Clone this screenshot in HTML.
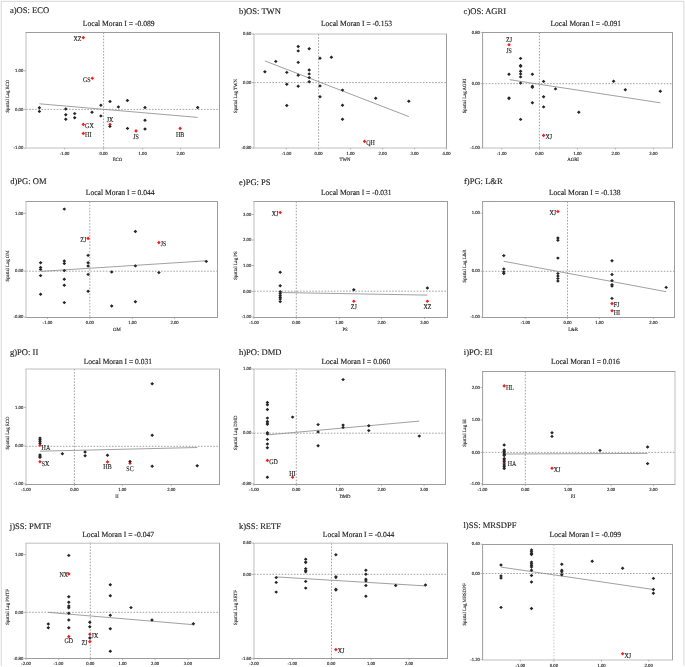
<!DOCTYPE html>
<html><head><meta charset="utf-8"><title>Local Moran scatterplots</title>
<style>
html,body{margin:0;padding:0;background:#fff;}
body{width:685px;height:667px;overflow:hidden;}
svg text{stroke:#222;stroke-width:0.14px;}
svg{display:block;font-family:"Liberation Serif",serif;will-change:transform;text-rendering:geometricPrecision;}
</style></head><body>
<svg width="685" height="667" viewBox="0 0 685 667">
<path d="M1.3 666V1.3H683.8V665.5" fill="none" stroke="#dedede" stroke-width="1.2"/>
<g><text x="9.9" y="13.1" font-size="8.55" fill="#222">a)OS: ECO</text><text x="82.8" y="26.1" font-size="7.8" fill="#222" textLength="71.8" lengthAdjust="spacingAndGlyphs">Local Moran I = -0.089</text><line x1="103.6" y1="32.5" x2="103.6" y2="148" stroke="#999999" stroke-width="0.9" stroke-dasharray="1.6 1.47"/><line x1="26" y1="109.4" x2="219.5" y2="109.4" stroke="#999999" stroke-width="0.9" stroke-dasharray="1.6 1.47"/><line x1="25.5" y1="32.5" x2="220" y2="32.5" stroke="#a09c9c" stroke-width="1"/><line x1="25.5" y1="148" x2="220" y2="148" stroke="#c0bdbd" stroke-width="1"/><line x1="26" y1="32.5" x2="26" y2="148" stroke="#c0bdbd" stroke-width="1"/><line x1="219.5" y1="32.5" x2="219.5" y2="148" stroke="#a09c9c" stroke-width="1"/><line x1="24" y1="70.8" x2="26" y2="70.8" stroke="#999" stroke-width="0.7"/><text x="23.3" y="72" font-size="4.7" fill="#333" text-anchor="end">1.00</text><line x1="24" y1="109.3" x2="26" y2="109.3" stroke="#999" stroke-width="0.7"/><text x="23.3" y="110.5" font-size="4.7" fill="#333" text-anchor="end">0.00</text><line x1="24" y1="148.2" x2="26" y2="148.2" stroke="#999" stroke-width="0.7"/><text x="23.3" y="149.4" font-size="4.7" fill="#333" text-anchor="end">-1.00</text><line x1="64.6" y1="148" x2="64.6" y2="149.5" stroke="#999" stroke-width="0.7"/><text x="64.6" y="154.9" font-size="4.7" fill="#333" text-anchor="middle">-1.00</text><line x1="103.6" y1="148" x2="103.6" y2="149.5" stroke="#999" stroke-width="0.7"/><text x="103.6" y="154.9" font-size="4.7" fill="#333" text-anchor="middle">0.00</text><line x1="142.7" y1="148" x2="142.7" y2="149.5" stroke="#999" stroke-width="0.7"/><text x="142.7" y="154.9" font-size="4.7" fill="#333" text-anchor="middle">1.00</text><line x1="180.6" y1="148" x2="180.6" y2="149.5" stroke="#999" stroke-width="0.7"/><text x="180.6" y="154.9" font-size="4.7" fill="#333" text-anchor="middle">2.00</text><text x="117.5" y="161.3" font-size="4.8" fill="#333" text-anchor="middle">ECO</text><text transform="translate(9 96.2) rotate(-90)" font-size="4.8" fill="#333" text-anchor="middle">Spatial Lag ECO</text><line x1="39.4" y1="103.8" x2="197.7" y2="117.4" stroke="#8a8888" stroke-width="0.8"/><path d="M83.3 35.8L85.1 37.6L83.3 39.4L81.5 37.6ZM92.3 76.4L94.1 78.2L92.3 80L90.5 78.2ZM83.3 122.6L85.1 124.4L83.3 126.2L81.5 124.4ZM83.3 131.6L85.1 133.4L83.3 135.2L81.5 133.4ZM110 122.7L111.8 124.5L110 126.3L108.2 124.5ZM136 129.1L137.8 130.9L136 132.7L134.2 130.9ZM180.1 126.6L181.9 128.4L180.1 130.2L178.3 128.4Z" fill="#ff1a1a"/><path d="M39.4 106L41.25 107.7L39.4 109.4L37.55 107.7ZM39.4 109.7L41.25 111.4L39.4 113.1L37.55 111.4ZM65.8 107.3L67.65 109L65.8 110.7L63.95 109ZM65.8 113L67.65 114.7L65.8 116.4L63.95 114.7ZM65.8 117.6L67.65 119.3L65.8 121L63.95 119.3ZM74.7 111.9L76.55 113.6L74.7 115.3L72.85 113.6ZM74.7 116.1L76.55 117.8L74.7 119.5L72.85 117.8ZM92 110.5L93.85 112.2L92 113.9L90.15 112.2ZM100.9 103.6L102.75 105.3L100.9 107L99.05 105.3ZM100.9 114.2L102.75 115.9L100.9 117.6L99.05 115.9ZM110 99.8L111.85 101.5L110 103.2L108.15 101.5ZM127.4 98.8L129.25 100.5L127.4 102.2L125.55 100.5ZM118.4 105.2L120.25 106.9L118.4 108.6L116.55 106.9ZM145 105.8L146.85 107.5L145 109.2L143.15 107.5ZM197.7 105.8L199.55 107.5L197.7 109.2L195.85 107.5ZM145 118.5L146.85 120.2L145 121.9L143.15 120.2ZM127.5 126.7L129.35 128.4L127.5 130.1L125.65 128.4ZM145 127.3L146.85 129L145 130.7L143.15 129ZM109.9 124.7L111.75 126.4L109.9 128.1L108.05 126.4Z" fill="#262626"/><text x="73.55" y="41.4" font-size="7.1" fill="#222" textLength="7.95" lengthAdjust="spacingAndGlyphs">XZ</text><text x="82.88" y="82" font-size="7.1" fill="#222" textLength="7.62" lengthAdjust="spacingAndGlyphs">GS</text><text x="85.1" y="128.2" font-size="7.1" fill="#222" textLength="8.61" lengthAdjust="spacingAndGlyphs">GX</text><text x="85.1" y="137.2" font-size="7.1" fill="#222" textLength="6.29" lengthAdjust="spacingAndGlyphs">HI</text><text x="106.69" y="122.1" font-size="7.1" fill="#222" textLength="6.63" lengthAdjust="spacingAndGlyphs">JX</text><text x="133.18" y="138.5" font-size="7.1" fill="#222" textLength="5.64" lengthAdjust="spacingAndGlyphs">JS</text><text x="175.96" y="136.7" font-size="7.1" fill="#222" textLength="8.29" lengthAdjust="spacingAndGlyphs">HB</text></g>
<g><text x="239" y="13.6" font-size="8.55" fill="#222">b)OS: TWN</text><text x="321" y="26.1" font-size="7.8" fill="#222" textLength="71" lengthAdjust="spacingAndGlyphs">Local Moran I = -0.153</text><line x1="318.6" y1="34" x2="318.6" y2="148" stroke="#999999" stroke-width="0.9" stroke-dasharray="1.6 1.47"/><line x1="254" y1="82.6" x2="446.5" y2="82.6" stroke="#999999" stroke-width="0.9" stroke-dasharray="1.6 1.47"/><line x1="253.5" y1="34" x2="447" y2="34" stroke="#c0bdbd" stroke-width="1"/><line x1="253.5" y1="148" x2="447" y2="148" stroke="#c0bdbd" stroke-width="1"/><line x1="254" y1="34" x2="254" y2="148" stroke="#c0bdbd" stroke-width="1"/><line x1="446.5" y1="34" x2="446.5" y2="148" stroke="#a09c9c" stroke-width="1"/><line x1="252" y1="34" x2="254" y2="34" stroke="#999" stroke-width="0.7"/><text x="251.3" y="35.2" font-size="4.7" fill="#333" text-anchor="end">0.60</text><line x1="252" y1="82.6" x2="254" y2="82.6" stroke="#999" stroke-width="0.7"/><text x="251.3" y="83.8" font-size="4.7" fill="#333" text-anchor="end">0.00</text><line x1="252" y1="148" x2="254" y2="148" stroke="#999" stroke-width="0.7"/><text x="251.3" y="149.2" font-size="4.7" fill="#333" text-anchor="end">-0.80</text><line x1="286.4" y1="148" x2="286.4" y2="149.5" stroke="#999" stroke-width="0.7"/><text x="286.4" y="154.9" font-size="4.7" fill="#333" text-anchor="middle">-1.00</text><line x1="318.6" y1="148" x2="318.6" y2="149.5" stroke="#999" stroke-width="0.7"/><text x="318.6" y="154.9" font-size="4.7" fill="#333" text-anchor="middle">0.00</text><line x1="350.6" y1="148" x2="350.6" y2="149.5" stroke="#999" stroke-width="0.7"/><text x="350.6" y="154.9" font-size="4.7" fill="#333" text-anchor="middle">1.00</text><line x1="382.7" y1="148" x2="382.7" y2="149.5" stroke="#999" stroke-width="0.7"/><text x="382.7" y="154.9" font-size="4.7" fill="#333" text-anchor="middle">2.00</text><line x1="414.5" y1="148" x2="414.5" y2="149.5" stroke="#999" stroke-width="0.7"/><text x="414.5" y="154.9" font-size="4.7" fill="#333" text-anchor="middle">3.00</text><line x1="446.6" y1="148" x2="446.6" y2="149.5" stroke="#999" stroke-width="0.7"/><text x="446.6" y="154.9" font-size="4.7" fill="#333" text-anchor="middle">4.00</text><text x="345" y="161.3" font-size="4.8" fill="#333" text-anchor="middle">TWN</text><text transform="translate(237 96) rotate(-90)" font-size="4.8" fill="#333" text-anchor="middle">Spatial Lag TWN</text><line x1="264.9" y1="60.9" x2="408.8" y2="116.6" stroke="#8a8888" stroke-width="0.8"/><path d="M364.5 139.6L366.3 141.4L364.5 143.2L362.7 141.4Z" fill="#ff1a1a"/><path d="M264.9 70.1L266.75 71.8L264.9 73.5L263.05 71.8ZM275.8 59.7L277.65 61.4L275.8 63.1L273.95 61.4ZM286.8 70.7L288.65 72.4L286.8 74.1L284.95 72.4ZM286.8 82.5L288.65 84.2L286.8 85.9L284.95 84.2ZM298.2 44.8L300.05 46.5L298.2 48.2L296.35 46.5ZM298.2 49.2L300.05 50.9L298.2 52.6L296.35 50.9ZM298.2 60.7L300.05 62.4L298.2 64.1L296.35 62.4ZM298.2 73.5L300.05 75.2L298.2 76.9L296.35 75.2ZM309.2 47L311.05 48.7L309.2 50.4L307.35 48.7ZM309.2 68.3L311.05 70L309.2 71.7L307.35 70ZM309.2 72.2L311.05 73.9L309.2 75.6L307.35 73.9ZM309.2 75.9L311.05 77.6L309.2 79.3L307.35 77.6ZM309.2 80.1L311.05 81.8L309.2 83.5L307.35 81.8ZM320 56.6L321.85 58.3L320 60L318.15 58.3ZM331.4 55.5L333.25 57.2L331.4 58.9L329.55 57.2ZM298.2 84.5L300.05 86.2L298.2 87.9L296.35 86.2ZM320 84.2L321.85 85.9L320 87.6L318.15 85.9ZM320 95.1L321.85 96.8L320 98.5L318.15 96.8ZM286.8 103.8L288.65 105.5L286.8 107.2L284.95 105.5ZM342.5 88.4L344.35 90.1L342.5 91.8L340.65 90.1ZM342.5 103.5L344.35 105.2L342.5 106.9L340.65 105.2ZM342.5 117.5L344.35 119.2L342.5 120.9L340.65 119.2ZM375.7 96.5L377.55 98.2L375.7 99.9L373.85 98.2ZM408.8 99.5L410.65 101.2L408.8 102.9L406.95 101.2Z" fill="#262626"/><text x="366.3" y="145.2" font-size="7.1" fill="#222" textLength="8.61" lengthAdjust="spacingAndGlyphs">QH</text></g>
<g><text x="463.6" y="13.8" font-size="8.55" fill="#222">c)OS: AGRI</text><text x="550.5" y="26.1" font-size="7.8" fill="#222" textLength="70.6" lengthAdjust="spacingAndGlyphs">Local Moran I = -0.091</text><line x1="539.4" y1="32.5" x2="539.4" y2="148" stroke="#999999" stroke-width="0.9" stroke-dasharray="1.6 1.47"/><line x1="482.6" y1="83.7" x2="672.5" y2="83.7" stroke="#999999" stroke-width="0.9" stroke-dasharray="1.6 1.47"/><line x1="482.1" y1="32.5" x2="673" y2="32.5" stroke="#a09c9c" stroke-width="1"/><line x1="482.1" y1="148" x2="673" y2="148" stroke="#c0bdbd" stroke-width="1"/><line x1="482.6" y1="32.5" x2="482.6" y2="148" stroke="#a09c9c" stroke-width="1"/><line x1="672.5" y1="32.5" x2="672.5" y2="148" stroke="#a09c9c" stroke-width="1"/><line x1="480.6" y1="32.4" x2="482.6" y2="32.4" stroke="#999" stroke-width="0.7"/><text x="479.9" y="33.6" font-size="4.7" fill="#333" text-anchor="end">0.80</text><line x1="480.6" y1="83.7" x2="482.6" y2="83.7" stroke="#999" stroke-width="0.7"/><text x="479.9" y="84.9" font-size="4.7" fill="#333" text-anchor="end">0.00</text><line x1="480.6" y1="148" x2="482.6" y2="148" stroke="#999" stroke-width="0.7"/><text x="479.9" y="149.2" font-size="4.7" fill="#333" text-anchor="end">-1.00</text><line x1="501.7" y1="148" x2="501.7" y2="149.5" stroke="#999" stroke-width="0.7"/><text x="501.7" y="154.9" font-size="4.7" fill="#333" text-anchor="middle">-1.00</text><line x1="539.4" y1="148" x2="539.4" y2="149.5" stroke="#999" stroke-width="0.7"/><text x="539.4" y="154.9" font-size="4.7" fill="#333" text-anchor="middle">0.00</text><line x1="577.6" y1="148" x2="577.6" y2="149.5" stroke="#999" stroke-width="0.7"/><text x="577.6" y="154.9" font-size="4.7" fill="#333" text-anchor="middle">1.00</text><line x1="615.6" y1="148" x2="615.6" y2="149.5" stroke="#999" stroke-width="0.7"/><text x="615.6" y="154.9" font-size="4.7" fill="#333" text-anchor="middle">2.00</text><line x1="653.4" y1="148" x2="653.4" y2="149.5" stroke="#999" stroke-width="0.7"/><text x="653.4" y="154.9" font-size="4.7" fill="#333" text-anchor="middle">3.00</text><text x="573.1" y="161.3" font-size="4.8" fill="#333" text-anchor="middle">AGRI</text><text transform="translate(465.6 96) rotate(-90)" font-size="4.8" fill="#333" text-anchor="middle">Spatial Lag AGRI</text><line x1="509.7" y1="79.7" x2="660.3" y2="102.8" stroke="#8a8888" stroke-width="0.8"/><path d="M509 42.9L510.8 44.7L509 46.5L507.2 44.7ZM509 42.9L510.8 44.7L509 46.5L507.2 44.7ZM543.6 133.6L545.4 135.4L543.6 137.2L541.8 135.4Z" fill="#ff1a1a"/><path d="M520.6 56.7L522.45 58.4L520.6 60.1L518.75 58.4ZM520.6 63.8L522.45 65.5L520.6 67.2L518.75 65.5ZM520.6 64.6L522.45 66.3L520.6 68L518.75 66.3ZM520.6 69.6L522.45 71.3L520.6 73L518.75 71.3ZM520.6 72.2L522.45 73.9L520.6 75.6L518.75 73.9ZM520.6 75.2L522.45 76.9L520.6 78.6L518.75 76.9ZM509 72.5L510.85 74.2L509 75.9L507.15 74.2ZM532.4 72.5L534.25 74.2L532.4 75.9L530.55 74.2ZM543.6 79.7L545.45 81.4L543.6 83.1L541.75 81.4ZM520.6 81.4L522.45 83.1L520.6 84.8L518.75 83.1ZM532.4 84.5L534.25 86.2L532.4 87.9L530.55 86.2ZM532.4 85.5L534.25 87.2L532.4 88.9L530.55 87.2ZM555.5 87.2L557.35 88.9L555.5 90.6L553.65 88.9ZM509 96.8L510.85 98.5L509 100.2L507.15 98.5ZM532.4 101L534.25 102.7L532.4 104.4L530.55 102.7ZM543.6 95.1L545.45 96.8L543.6 98.5L541.75 96.8ZM543.6 105.2L545.45 106.9L543.6 108.6L541.75 106.9ZM520.6 117.7L522.45 119.4L520.6 121.1L518.75 119.4ZM613.6 79.5L615.45 81.2L613.6 82.9L611.75 81.2ZM625.3 88L627.15 89.7L625.3 91.4L623.45 89.7ZM660.3 89.6L662.15 91.3L660.3 93L658.45 91.3ZM578.8 110.6L580.65 112.3L578.8 114L576.95 112.3ZM509 96.3L510.85 98L509 99.7L507.15 98Z" fill="#262626"/><text x="506.02" y="42.3" font-size="7.1" fill="#222" textLength="5.96" lengthAdjust="spacingAndGlyphs">ZJ</text><text x="506.18" y="52.9" font-size="7.1" fill="#222" textLength="5.64" lengthAdjust="spacingAndGlyphs">JS</text><text x="545.4" y="139.2" font-size="7.1" fill="#222" textLength="6.63" lengthAdjust="spacingAndGlyphs">XJ</text></g>
<g><text x="10.2" y="184.2" font-size="8.55" fill="#222">d)PG: OM</text><text x="85.8" y="195.2" font-size="7.8" fill="#222" textLength="68.8" lengthAdjust="spacingAndGlyphs">Local Moran I = 0.044</text><line x1="89.8" y1="201.5" x2="89.8" y2="317.5" stroke="#999999" stroke-width="0.9" stroke-dasharray="1.6 1.47"/><line x1="26" y1="271.2" x2="217.5" y2="271.2" stroke="#999999" stroke-width="0.9" stroke-dasharray="1.6 1.47"/><line x1="25.5" y1="201.5" x2="218" y2="201.5" stroke="#a09c9c" stroke-width="1"/><line x1="25.5" y1="317.5" x2="218" y2="317.5" stroke="#a09c9c" stroke-width="1"/><line x1="26" y1="201.5" x2="26" y2="317.5" stroke="#c0bdbd" stroke-width="1"/><line x1="217.5" y1="201.5" x2="217.5" y2="317.5" stroke="#a09c9c" stroke-width="1"/><line x1="24" y1="213.3" x2="26" y2="213.3" stroke="#999" stroke-width="0.7"/><text x="23.3" y="214.5" font-size="4.7" fill="#333" text-anchor="end">1.00</text><line x1="24" y1="271.1" x2="26" y2="271.1" stroke="#999" stroke-width="0.7"/><text x="23.3" y="272.3" font-size="4.7" fill="#333" text-anchor="end">0.00</text><line x1="24" y1="317.2" x2="26" y2="317.2" stroke="#999" stroke-width="0.7"/><text x="23.3" y="318.4" font-size="4.7" fill="#333" text-anchor="end">-0.80</text><line x1="47.5" y1="317.5" x2="47.5" y2="319" stroke="#999" stroke-width="0.7"/><text x="47.5" y="324.4" font-size="4.7" fill="#333" text-anchor="middle">-1.00</text><line x1="89.8" y1="317.5" x2="89.8" y2="319" stroke="#999" stroke-width="0.7"/><text x="89.8" y="324.4" font-size="4.7" fill="#333" text-anchor="middle">0.00</text><line x1="132.4" y1="317.5" x2="132.4" y2="319" stroke="#999" stroke-width="0.7"/><text x="132.4" y="324.4" font-size="4.7" fill="#333" text-anchor="middle">1.00</text><line x1="174.5" y1="317.5" x2="174.5" y2="319" stroke="#999" stroke-width="0.7"/><text x="174.5" y="324.4" font-size="4.7" fill="#333" text-anchor="middle">2.00</text><text x="116.8" y="330.8" font-size="4.8" fill="#333" text-anchor="middle">OM</text><text transform="translate(9 266) rotate(-90)" font-size="4.8" fill="#333" text-anchor="middle">Spatial Lag OM</text><line x1="40.6" y1="271.4" x2="206.3" y2="260.8" stroke="#8a8888" stroke-width="0.8"/><path d="M88.1 236.6L89.9 238.4L88.1 240.2L86.3 238.4ZM158.9 240.8L160.7 242.6L158.9 244.4L157.1 242.6Z" fill="#ff1a1a"/><path d="M64.3 207.4L66.15 209.1L64.3 210.8L62.45 209.1ZM40.6 261L42.45 262.7L40.6 264.4L38.75 262.7ZM40.6 265.7L42.45 267.4L40.6 269.1L38.75 267.4ZM40.6 267.7L42.45 269.4L40.6 271.1L38.75 269.4ZM40.6 273.9L42.45 275.6L40.6 277.3L38.75 275.6ZM40.6 292.5L42.45 294.2L40.6 295.9L38.75 294.2ZM64.3 259.3L66.15 261L64.3 262.7L62.45 261ZM64.3 261.8L66.15 263.5L64.3 265.2L62.45 263.5ZM64.3 268.9L66.15 270.6L64.3 272.3L62.45 270.6ZM64.3 277.6L66.15 279.3L64.3 281L62.45 279.3ZM64.3 283.6L66.15 285.3L64.3 287L62.45 285.3ZM64.3 300.9L66.15 302.6L64.3 304.3L62.45 302.6ZM88.1 253.7L89.95 255.4L88.1 257.1L86.25 255.4ZM88.1 261L89.95 262.7L88.1 264.4L86.25 262.7ZM88.1 264.3L89.95 266L88.1 267.7L86.25 266ZM88.1 272.7L89.95 274.4L88.1 276.1L86.25 274.4ZM88.1 289.5L89.95 291.2L88.1 292.9L86.25 291.2ZM111.7 270.3L113.55 272L111.7 273.7L109.85 272ZM111.7 304.3L113.55 306L111.7 307.7L109.85 306ZM135.4 229.8L137.25 231.5L135.4 233.2L133.55 231.5ZM206.3 259.7L208.15 261.4L206.3 263.1L204.45 261.4ZM135.4 264.2L137.25 265.9L135.4 267.6L133.55 265.9ZM158.9 270.9L160.75 272.6L158.9 274.3L157.05 272.6ZM135.4 300L137.25 301.7L135.4 303.4L133.55 301.7Z" fill="#262626"/><text x="80.34" y="242.2" font-size="7.1" fill="#222" textLength="5.96" lengthAdjust="spacingAndGlyphs">ZJ</text><text x="160.7" y="246.4" font-size="7.1" fill="#222" textLength="5.64" lengthAdjust="spacingAndGlyphs">JS</text></g>
<g><text x="239" y="184.6" font-size="8.55" fill="#222">e)PG: PS</text><text x="321" y="195.2" font-size="7.8" fill="#222" textLength="70.5" lengthAdjust="spacingAndGlyphs">Local Moran I = -0.031</text><line x1="296.3" y1="201.5" x2="296.3" y2="317.5" stroke="#999999" stroke-width="0.9" stroke-dasharray="1.6 1.47"/><line x1="254" y1="291.2" x2="447.5" y2="291.2" stroke="#999999" stroke-width="0.9" stroke-dasharray="1.6 1.47"/><line x1="253.5" y1="201.5" x2="448" y2="201.5" stroke="#a09c9c" stroke-width="1"/><line x1="253.5" y1="317.5" x2="448" y2="317.5" stroke="#a09c9c" stroke-width="1"/><line x1="254" y1="201.5" x2="254" y2="317.5" stroke="#c0bdbd" stroke-width="1"/><line x1="447.5" y1="201.5" x2="447.5" y2="317.5" stroke="#a09c9c" stroke-width="1"/><line x1="252" y1="214.5" x2="254" y2="214.5" stroke="#999" stroke-width="0.7"/><text x="251.3" y="215.7" font-size="4.7" fill="#333" text-anchor="end">3.00</text><line x1="252" y1="240" x2="254" y2="240" stroke="#999" stroke-width="0.7"/><text x="251.3" y="241.2" font-size="4.7" fill="#333" text-anchor="end">2.00</text><line x1="252" y1="265.5" x2="254" y2="265.5" stroke="#999" stroke-width="0.7"/><text x="251.3" y="266.7" font-size="4.7" fill="#333" text-anchor="end">1.00</text><line x1="252" y1="291.4" x2="254" y2="291.4" stroke="#999" stroke-width="0.7"/><text x="251.3" y="292.6" font-size="4.7" fill="#333" text-anchor="end">0.00</text><line x1="252" y1="317.2" x2="254" y2="317.2" stroke="#999" stroke-width="0.7"/><text x="251.3" y="318.4" font-size="4.7" fill="#333" text-anchor="end">-1.00</text><line x1="254" y1="317.5" x2="254" y2="319" stroke="#999" stroke-width="0.7"/><text x="254" y="324.4" font-size="4.7" fill="#333" text-anchor="middle">-1.00</text><line x1="296.3" y1="317.5" x2="296.3" y2="319" stroke="#999" stroke-width="0.7"/><text x="296.3" y="324.4" font-size="4.7" fill="#333" text-anchor="middle">0.00</text><line x1="339.3" y1="317.5" x2="339.3" y2="319" stroke="#999" stroke-width="0.7"/><text x="339.3" y="324.4" font-size="4.7" fill="#333" text-anchor="middle">1.00</text><line x1="381.5" y1="317.5" x2="381.5" y2="319" stroke="#999" stroke-width="0.7"/><text x="381.5" y="324.4" font-size="4.7" fill="#333" text-anchor="middle">2.00</text><line x1="424.4" y1="317.5" x2="424.4" y2="319" stroke="#999" stroke-width="0.7"/><text x="424.4" y="324.4" font-size="4.7" fill="#333" text-anchor="middle">3.00</text><text x="345.1" y="330.8" font-size="4.8" fill="#333" text-anchor="middle">PS</text><text transform="translate(237 265.6) rotate(-90)" font-size="4.8" fill="#333" text-anchor="middle">Spatial Lag PS</text><line x1="280.2" y1="292.5" x2="427.4" y2="295.1" stroke="#8a8888" stroke-width="0.8"/><path d="M280.2 210.7L282 212.5L280.2 214.3L278.4 212.5ZM353.8 299.4L355.6 301.2L353.8 303L352 301.2ZM427.4 299.4L429.2 301.2L427.4 303L425.6 301.2Z" fill="#ff1a1a"/><path d="M280.2 270.5L282.05 272.2L280.2 273.9L278.35 272.2ZM280.2 284.1L282.05 285.8L280.2 287.5L278.35 285.8ZM280.2 290L282.05 291.7L280.2 293.4L278.35 291.7ZM280.2 292L282.05 293.7L280.2 295.4L278.35 293.7ZM280.2 294L282.05 295.7L280.2 297.4L278.35 295.7ZM280.2 295.7L282.05 297.4L280.2 299.1L278.35 297.4ZM280.2 297.4L282.05 299.1L280.2 300.8L278.35 299.1ZM280.2 299.9L282.05 301.6L280.2 303.3L278.35 301.6ZM353.8 288L355.65 289.7L353.8 291.4L351.95 289.7ZM427.4 286.3L429.25 288L427.4 289.7L425.55 288Z" fill="#262626"/><text x="271.77" y="216.3" font-size="7.1" fill="#222" textLength="6.63" lengthAdjust="spacingAndGlyphs">XJ</text><text x="350.82" y="308.6" font-size="7.1" fill="#222" textLength="5.96" lengthAdjust="spacingAndGlyphs">ZJ</text><text x="423.42" y="308.6" font-size="7.1" fill="#222" textLength="7.95" lengthAdjust="spacingAndGlyphs">XZ</text></g>
<g><text x="464" y="184.2" font-size="8.55" fill="#222">f)PG: L&amp;R</text><text x="548.9" y="195.2" font-size="7.8" fill="#222" textLength="71.7" lengthAdjust="spacingAndGlyphs">Local Moran I = -0.138</text><line x1="567.5" y1="201.5" x2="567.5" y2="317.5" stroke="#999999" stroke-width="0.9" stroke-dasharray="1.6 1.47"/><line x1="482.6" y1="271.3" x2="674.5" y2="271.3" stroke="#999999" stroke-width="0.9" stroke-dasharray="1.6 1.47"/><line x1="482.1" y1="201.5" x2="675" y2="201.5" stroke="#a09c9c" stroke-width="1"/><line x1="482.1" y1="317.5" x2="675" y2="317.5" stroke="#a09c9c" stroke-width="1"/><line x1="482.6" y1="201.5" x2="482.6" y2="317.5" stroke="#a09c9c" stroke-width="1"/><line x1="674.5" y1="201.5" x2="674.5" y2="317.5" stroke="#a09c9c" stroke-width="1"/><line x1="480.6" y1="213.2" x2="482.6" y2="213.2" stroke="#999" stroke-width="0.7"/><text x="479.9" y="214.4" font-size="4.7" fill="#333" text-anchor="end">1.00</text><line x1="480.6" y1="271.2" x2="482.6" y2="271.2" stroke="#999" stroke-width="0.7"/><text x="479.9" y="272.4" font-size="4.7" fill="#333" text-anchor="end">0.00</text><line x1="480.6" y1="317.2" x2="482.6" y2="317.2" stroke="#999" stroke-width="0.7"/><text x="479.9" y="318.4" font-size="4.7" fill="#333" text-anchor="end">-1.00</text><line x1="525.3" y1="317.5" x2="525.3" y2="319" stroke="#999" stroke-width="0.7"/><text x="525.3" y="324.4" font-size="4.7" fill="#333" text-anchor="middle">-1.00</text><line x1="567.5" y1="317.5" x2="567.5" y2="319" stroke="#999" stroke-width="0.7"/><text x="567.5" y="324.4" font-size="4.7" fill="#333" text-anchor="middle">0.00</text><line x1="599.4" y1="317.5" x2="599.4" y2="319" stroke="#999" stroke-width="0.7"/><text x="599.4" y="324.4" font-size="4.7" fill="#333" text-anchor="middle">1.00</text><line x1="653.4" y1="317.5" x2="653.4" y2="319" stroke="#999" stroke-width="0.7"/><text x="653.4" y="324.4" font-size="4.7" fill="#333" text-anchor="middle">2.00</text><text x="573.1" y="330.8" font-size="4.8" fill="#333" text-anchor="middle">L&amp;R</text><text transform="translate(465.6 266) rotate(-90)" font-size="4.8" fill="#333" text-anchor="middle">Spatial Lag L&amp;R</text><line x1="503.8" y1="261.3" x2="666.2" y2="291.7" stroke="#8a8888" stroke-width="0.8"/><path d="M557.9 209.7L559.7 211.5L557.9 213.3L556.1 211.5ZM612 301.8L613.8 303.6L612 305.4L610.2 303.6ZM612 308.9L613.8 310.7L612 312.5L610.2 310.7Z" fill="#ff1a1a"/><path d="M557.9 236.3L559.75 238L557.9 239.7L556.05 238ZM557.9 238.5L559.75 240.2L557.9 241.9L556.05 240.2ZM503.8 253.9L505.65 255.6L503.8 257.3L501.95 255.6ZM503.8 267.2L505.65 268.9L503.8 270.6L501.95 268.9ZM503.8 270.2L505.65 271.9L503.8 273.6L501.95 271.9ZM503.8 271.9L505.65 273.6L503.8 275.3L501.95 273.6ZM557.9 256.4L559.75 258.1L557.9 259.8L556.05 258.1ZM557.9 271.9L559.75 273.6L557.9 275.3L556.05 273.6ZM557.9 274.4L559.75 276.1L557.9 277.8L556.05 276.1ZM557.9 276.9L559.75 278.6L557.9 280.3L556.05 278.6ZM557.9 279.4L559.75 281.1L557.9 282.8L556.05 281.1ZM612 259L613.85 260.7L612 262.4L610.15 260.7ZM612 272.8L613.85 274.5L612 276.2L610.15 274.5ZM612 278.9L613.85 280.6L612 282.3L610.15 280.6ZM612 282.9L613.85 284.6L612 286.3L610.15 284.6ZM612 284.3L613.85 286L612 287.7L610.15 286ZM612 296.7L613.85 298.4L612 300.1L610.15 298.4ZM666.2 285.7L668.05 287.4L666.2 289.1L664.35 287.4Z" fill="#262626"/><text x="549.47" y="215.3" font-size="7.1" fill="#222" textLength="6.63" lengthAdjust="spacingAndGlyphs">XJ</text><text x="613.8" y="307.4" font-size="7.1" fill="#222" textLength="5.64" lengthAdjust="spacingAndGlyphs">FJ</text><text x="613.8" y="314.5" font-size="7.1" fill="#222" textLength="6.29" lengthAdjust="spacingAndGlyphs">HI</text></g>
<g><text x="10" y="354.9" font-size="8.55" fill="#222">g)PO: II</text><text x="83.7" y="363.7" font-size="7.8" fill="#222" textLength="68.3" lengthAdjust="spacingAndGlyphs">Local Moran I = 0.031</text><line x1="74.4" y1="369" x2="74.4" y2="484.5" stroke="#999999" stroke-width="0.9" stroke-dasharray="1.6 1.47"/><line x1="26" y1="446.3" x2="219.5" y2="446.3" stroke="#999999" stroke-width="0.9" stroke-dasharray="1.6 1.47"/><line x1="25.5" y1="369" x2="220" y2="369" stroke="#c0bdbd" stroke-width="1"/><line x1="25.5" y1="484.5" x2="220" y2="484.5" stroke="#a09c9c" stroke-width="1"/><line x1="26" y1="369" x2="26" y2="484.5" stroke="#c0bdbd" stroke-width="1"/><line x1="219.5" y1="369" x2="219.5" y2="484.5" stroke="#a09c9c" stroke-width="1"/><line x1="24" y1="407.4" x2="26" y2="407.4" stroke="#999" stroke-width="0.7"/><text x="23.3" y="408.6" font-size="4.7" fill="#333" text-anchor="end">1.00</text><line x1="24" y1="446.1" x2="26" y2="446.1" stroke="#999" stroke-width="0.7"/><text x="23.3" y="447.3" font-size="4.7" fill="#333" text-anchor="end">0.00</text><line x1="24" y1="483.9" x2="26" y2="483.9" stroke="#999" stroke-width="0.7"/><text x="23.3" y="485.1" font-size="4.7" fill="#333" text-anchor="end">-1.00</text><line x1="26" y1="484.5" x2="26" y2="486" stroke="#999" stroke-width="0.7"/><text x="26" y="491.4" font-size="4.7" fill="#333" text-anchor="middle">-1.00</text><line x1="74.4" y1="484.5" x2="74.4" y2="486" stroke="#999" stroke-width="0.7"/><text x="74.4" y="491.4" font-size="4.7" fill="#333" text-anchor="middle">0.00</text><line x1="122.3" y1="484.5" x2="122.3" y2="486" stroke="#999" stroke-width="0.7"/><text x="122.3" y="491.4" font-size="4.7" fill="#333" text-anchor="middle">1.00</text><line x1="171.3" y1="484.5" x2="171.3" y2="486" stroke="#999" stroke-width="0.7"/><text x="171.3" y="491.4" font-size="4.7" fill="#333" text-anchor="middle">2.00</text><text x="116.9" y="497.8" font-size="4.8" fill="#333" text-anchor="middle">II</text><text transform="translate(9 433) rotate(-90)" font-size="4.8" fill="#333" text-anchor="middle">Spatial Lag ECO</text><line x1="40" y1="451.2" x2="197.2" y2="447.5" stroke="#8a8888" stroke-width="0.8"/><path d="M40 443.5L41.8 445.3L40 447.1L38.2 445.3ZM40 459.9L41.8 461.7L40 463.5L38.2 461.7ZM107.5 460.1L109.3 461.9L107.5 463.7L105.7 461.9ZM130 461.5L131.8 463.3L130 465.1L128.2 463.3Z" fill="#ff1a1a"/><path d="M40 436.4L41.85 438.1L40 439.8L38.15 438.1ZM40 438L41.85 439.7L40 441.4L38.15 439.7ZM40 439.7L41.85 441.4L40 443.1L38.15 441.4ZM40 441.6L41.85 443.3L40 445L38.15 443.3ZM40 453.3L41.85 455L40 456.7L38.15 455ZM40 454.5L41.85 456.2L40 457.9L38.15 456.2ZM40 455.7L41.85 457.4L40 459.1L38.15 457.4ZM62.4 452L64.25 453.7L62.4 455.4L60.55 453.7ZM85.1 450.3L86.95 452L85.1 453.7L83.25 452ZM85.1 454L86.95 455.7L85.1 457.4L83.25 455.7ZM107.5 453.5L109.35 455.2L107.5 456.9L105.65 455.2ZM152.2 382L154.05 383.7L152.2 385.4L150.35 383.7ZM152.2 433.6L154.05 435.3L152.2 437L150.35 435.3ZM130 459.8L131.85 461.5L130 463.2L128.15 461.5ZM152.2 464.6L154.05 466.3L152.2 468L150.35 466.3ZM197.2 464L199.05 465.7L197.2 467.4L195.35 465.7Z" fill="#262626"/><text x="41.6" y="450.3" font-size="7.1" fill="#222" textLength="8.61" lengthAdjust="spacingAndGlyphs">HA</text><text x="41.8" y="465.5" font-size="7.1" fill="#222" textLength="7.62" lengthAdjust="spacingAndGlyphs">SX</text><text x="103.36" y="469.3" font-size="7.1" fill="#222" textLength="8.29" lengthAdjust="spacingAndGlyphs">HB</text><text x="126.35" y="470.7" font-size="7.1" fill="#222" textLength="7.29" lengthAdjust="spacingAndGlyphs">SC</text></g>
<g><text x="239" y="354.8" font-size="8.55" fill="#222">h)PO: DMD</text><text x="321.4" y="363.7" font-size="7.8" fill="#222" textLength="68.8" lengthAdjust="spacingAndGlyphs">Local Moran I = 0.060</text><line x1="296.3" y1="369" x2="296.3" y2="484.5" stroke="#999999" stroke-width="0.9" stroke-dasharray="1.6 1.47"/><line x1="254" y1="433.2" x2="445.5" y2="433.2" stroke="#999999" stroke-width="0.9" stroke-dasharray="1.6 1.47"/><line x1="253.5" y1="369" x2="446" y2="369" stroke="#c0bdbd" stroke-width="1"/><line x1="253.5" y1="484.5" x2="446" y2="484.5" stroke="#a09c9c" stroke-width="1"/><line x1="254" y1="369" x2="254" y2="484.5" stroke="#c0bdbd" stroke-width="1"/><line x1="445.5" y1="369" x2="445.5" y2="484.5" stroke="#a09c9c" stroke-width="1"/><line x1="252" y1="369.1" x2="254" y2="369.1" stroke="#999" stroke-width="0.7"/><text x="251.3" y="370.3" font-size="4.7" fill="#333" text-anchor="end">1.00</text><line x1="252" y1="433.2" x2="254" y2="433.2" stroke="#999" stroke-width="0.7"/><text x="251.3" y="434.4" font-size="4.7" fill="#333" text-anchor="end">0.00</text><line x1="252" y1="483.9" x2="254" y2="483.9" stroke="#999" stroke-width="0.7"/><text x="251.3" y="485.1" font-size="4.7" fill="#333" text-anchor="end">-0.80</text><line x1="254" y1="484.5" x2="254" y2="486" stroke="#999" stroke-width="0.7"/><text x="254" y="491.4" font-size="4.7" fill="#333" text-anchor="middle">-1.00</text><line x1="296.3" y1="484.5" x2="296.3" y2="486" stroke="#999" stroke-width="0.7"/><text x="296.3" y="491.4" font-size="4.7" fill="#333" text-anchor="middle">0.00</text><line x1="339.5" y1="484.5" x2="339.5" y2="486" stroke="#999" stroke-width="0.7"/><text x="339.5" y="491.4" font-size="4.7" fill="#333" text-anchor="middle">1.00</text><line x1="381.5" y1="484.5" x2="381.5" y2="486" stroke="#999" stroke-width="0.7"/><text x="381.5" y="491.4" font-size="4.7" fill="#333" text-anchor="middle">2.00</text><line x1="424" y1="484.5" x2="424" y2="486" stroke="#999" stroke-width="0.7"/><text x="424" y="491.4" font-size="4.7" fill="#333" text-anchor="middle">3.00</text><text x="345" y="497.8" font-size="4.8" fill="#333" text-anchor="middle">DMD</text><text transform="translate(237 432.7) rotate(-90)" font-size="4.8" fill="#333" text-anchor="middle">Spatial Lag DMD</text><line x1="267.4" y1="434.9" x2="419.3" y2="421.1" stroke="#8a8888" stroke-width="0.8"/><path d="M267.4 458.6L269.2 460.4L267.4 462.2L265.6 460.4ZM292.6 475.4L294.4 477.2L292.6 479L290.8 477.2Z" fill="#ff1a1a"/><path d="M267.4 400.8L269.25 402.5L267.4 404.2L265.55 402.5ZM267.4 403L269.25 404.7L267.4 406.4L265.55 404.7ZM267.4 407.8L269.25 409.5L267.4 411.2L265.55 409.5ZM267.4 416.4L269.25 418.1L267.4 419.8L265.55 418.1ZM267.4 419.8L269.25 421.5L267.4 423.2L265.55 421.5ZM267.4 421.4L269.25 423.1L267.4 424.8L265.55 423.1ZM267.4 422.6L269.25 424.3L267.4 426L265.55 424.3ZM267.4 431L269.25 432.7L267.4 434.4L265.55 432.7ZM267.4 432.2L269.25 433.9L267.4 435.6L265.55 433.9ZM267.4 437.7L269.25 439.4L267.4 441.1L265.55 439.4ZM267.4 442.3L269.25 444L267.4 445.7L265.55 444ZM267.4 446.1L269.25 447.8L267.4 449.5L265.55 447.8ZM267.4 475.5L269.25 477.2L267.4 478.9L265.55 477.2ZM292.6 415.4L294.45 417.1L292.6 418.8L290.75 417.1ZM318.1 422.9L319.95 424.6L318.1 426.3L316.25 424.6ZM318.1 430.2L319.95 431.9L318.1 433.6L316.25 431.9ZM318.1 444.1L319.95 445.8L318.1 447.5L316.25 445.8ZM343.1 377.9L344.95 379.6L343.1 381.3L341.25 379.6ZM343.1 423.4L344.95 425.1L343.1 426.8L341.25 425.1ZM343.1 425.7L344.95 427.4L343.1 429.1L341.25 427.4ZM368.8 424L370.65 425.7L368.8 427.4L366.95 425.7ZM368.8 428.9L370.65 430.6L368.8 432.3L366.95 430.6ZM419.3 434.4L421.15 436.1L419.3 437.8L417.45 436.1Z" fill="#262626"/><text x="269.2" y="464.2" font-size="7.1" fill="#222" textLength="8.61" lengthAdjust="spacingAndGlyphs">GD</text><text x="289.25" y="475.8" font-size="7.1" fill="#222" textLength="6.29" lengthAdjust="spacingAndGlyphs">HI</text></g>
<g><text x="463.8" y="354.9" font-size="8.55" fill="#222">i)PO: EI</text><text x="551" y="363.7" font-size="7.8" fill="#222" textLength="68.9" lengthAdjust="spacingAndGlyphs">Local Moran I = 0.016</text><line x1="525.3" y1="371.5" x2="525.3" y2="484.5" stroke="#999999" stroke-width="0.9" stroke-dasharray="1.6 1.47"/><line x1="482.6" y1="452.4" x2="675" y2="452.4" stroke="#999999" stroke-width="0.9" stroke-dasharray="1.6 1.47"/><line x1="482.1" y1="371.5" x2="675.5" y2="371.5" stroke="#a09c9c" stroke-width="1"/><line x1="482.1" y1="484.5" x2="675.5" y2="484.5" stroke="#a09c9c" stroke-width="1"/><line x1="482.6" y1="371.5" x2="482.6" y2="484.5" stroke="#a09c9c" stroke-width="1"/><line x1="675" y1="371.5" x2="675" y2="484.5" stroke="#c0bdbd" stroke-width="1"/><line x1="480.6" y1="387.4" x2="482.6" y2="387.4" stroke="#999" stroke-width="0.7"/><text x="479.9" y="388.6" font-size="4.7" fill="#333" text-anchor="end">2.00</text><line x1="480.6" y1="420.1" x2="482.6" y2="420.1" stroke="#999" stroke-width="0.7"/><text x="479.9" y="421.3" font-size="4.7" fill="#333" text-anchor="end">1.00</text><line x1="480.6" y1="452.3" x2="482.6" y2="452.3" stroke="#999" stroke-width="0.7"/><text x="479.9" y="453.5" font-size="4.7" fill="#333" text-anchor="end">0.00</text><line x1="480.6" y1="483.9" x2="482.6" y2="483.9" stroke="#999" stroke-width="0.7"/><text x="479.9" y="485.1" font-size="4.7" fill="#333" text-anchor="end">-1.00</text><line x1="482.4" y1="484.5" x2="482.4" y2="486" stroke="#999" stroke-width="0.7"/><text x="482.4" y="491.4" font-size="4.7" fill="#333" text-anchor="middle">-1.00</text><line x1="525.3" y1="484.5" x2="525.3" y2="486" stroke="#999" stroke-width="0.7"/><text x="525.3" y="491.4" font-size="4.7" fill="#333" text-anchor="middle">0.00</text><line x1="568" y1="484.5" x2="568" y2="486" stroke="#999" stroke-width="0.7"/><text x="568" y="491.4" font-size="4.7" fill="#333" text-anchor="middle">1.00</text><line x1="611" y1="484.5" x2="611" y2="486" stroke="#999" stroke-width="0.7"/><text x="611" y="491.4" font-size="4.7" fill="#333" text-anchor="middle">2.00</text><line x1="653.4" y1="484.5" x2="653.4" y2="486" stroke="#999" stroke-width="0.7"/><text x="653.4" y="491.4" font-size="4.7" fill="#333" text-anchor="middle">3.00</text><text x="573" y="497.8" font-size="4.8" fill="#333" text-anchor="middle">EI</text><text transform="translate(465.6 433) rotate(-90)" font-size="4.8" fill="#333" text-anchor="middle">Spatial Lag EI</text><line x1="504.2" y1="454" x2="647.6" y2="453.4" stroke="#8a8888" stroke-width="0.8"/><path d="M504.2 384.1L506 385.9L504.2 387.7L502.4 385.9ZM504.2 461.6L506 463.4L504.2 465.2L502.4 463.4ZM552 466.5L553.8 468.3L552 470.1L550.2 468.3Z" fill="#ff1a1a"/><path d="M504.2 443.3L506.05 445L504.2 446.7L502.35 445ZM504.2 448.3L506.05 450L504.2 451.7L502.35 450ZM504.2 449.8L506.05 451.5L504.2 453.2L502.35 451.5ZM504.2 451.3L506.05 453L504.2 454.7L502.35 453ZM504.2 452.8L506.05 454.5L504.2 456.2L502.35 454.5ZM504.2 453.8L506.05 455.5L504.2 457.2L502.35 455.5ZM504.2 456.7L506.05 458.4L504.2 460.1L502.35 458.4ZM504.2 458.3L506.05 460L504.2 461.7L502.35 460ZM504.2 460L506.05 461.7L504.2 463.4L502.35 461.7ZM504.2 463.3L506.05 465L504.2 466.7L502.35 465ZM504.2 465.1L506.05 466.8L504.2 468.5L502.35 466.8ZM504.2 466.8L506.05 468.5L504.2 470.2L502.35 468.5ZM552 431L553.85 432.7L552 434.4L550.15 432.7ZM552 434.7L553.85 436.4L552 438.1L550.15 436.4ZM600 448.7L601.85 450.4L600 452.1L598.15 450.4ZM647.6 445.3L649.45 447L647.6 448.7L645.75 447ZM647.6 461.9L649.45 463.6L647.6 465.3L645.75 463.6Z" fill="#262626"/><text x="506" y="389.7" font-size="7.1" fill="#222" textLength="7.95" lengthAdjust="spacingAndGlyphs">HL</text><text x="507.8" y="466.4" font-size="7.1" fill="#222" textLength="8.61" lengthAdjust="spacingAndGlyphs">HA</text><text x="553.8" y="472.1" font-size="7.1" fill="#222" textLength="6.63" lengthAdjust="spacingAndGlyphs">XJ</text></g>
<g><text x="9.8" y="528.9" font-size="8.55" fill="#222">j)SS: PMTF</text><text x="82.2" y="536.6" font-size="7.8" fill="#222" textLength="71.9" lengthAdjust="spacingAndGlyphs">Local Moran I = -0.047</text><line x1="90.3" y1="543.2" x2="90.3" y2="658.5" stroke="#999999" stroke-width="0.9" stroke-dasharray="1.6 1.47"/><line x1="26" y1="612.3" x2="219.5" y2="612.3" stroke="#999999" stroke-width="0.9" stroke-dasharray="1.6 1.47"/><line x1="25.5" y1="543.2" x2="220" y2="543.2" stroke="#c0bdbd" stroke-width="1"/><line x1="25.5" y1="658.5" x2="220" y2="658.5" stroke="#a09c9c" stroke-width="1"/><line x1="26" y1="543.2" x2="26" y2="658.5" stroke="#c0bdbd" stroke-width="1"/><line x1="219.5" y1="543.2" x2="219.5" y2="658.5" stroke="#a09c9c" stroke-width="1"/><line x1="24" y1="554.6" x2="26" y2="554.6" stroke="#999" stroke-width="0.7"/><text x="23.3" y="555.8" font-size="4.7" fill="#333" text-anchor="end">1.00</text><line x1="24" y1="612.4" x2="26" y2="612.4" stroke="#999" stroke-width="0.7"/><text x="23.3" y="613.6" font-size="4.7" fill="#333" text-anchor="end">0.00</text><line x1="24" y1="658.4" x2="26" y2="658.4" stroke="#999" stroke-width="0.7"/><text x="23.3" y="659.6" font-size="4.7" fill="#333" text-anchor="end">-0.80</text><line x1="26" y1="658.5" x2="26" y2="660" stroke="#999" stroke-width="0.7"/><text x="26" y="665.4" font-size="4.7" fill="#333" text-anchor="middle">-2.00</text><line x1="58.4" y1="658.5" x2="58.4" y2="660" stroke="#999" stroke-width="0.7"/><text x="58.4" y="665.4" font-size="4.7" fill="#333" text-anchor="middle">-1.00</text><line x1="90.3" y1="658.5" x2="90.3" y2="660" stroke="#999" stroke-width="0.7"/><text x="90.3" y="665.4" font-size="4.7" fill="#333" text-anchor="middle">0.00</text><line x1="122.6" y1="658.5" x2="122.6" y2="660" stroke="#999" stroke-width="0.7"/><text x="122.6" y="665.4" font-size="4.7" fill="#333" text-anchor="middle">1.00</text><line x1="155" y1="658.5" x2="155" y2="660" stroke="#999" stroke-width="0.7"/><text x="155" y="665.4" font-size="4.7" fill="#333" text-anchor="middle">2.00</text><line x1="187.9" y1="658.5" x2="187.9" y2="660" stroke="#999" stroke-width="0.7"/><text x="187.9" y="665.4" font-size="4.7" fill="#333" text-anchor="middle">3.00</text><text transform="translate(9 607) rotate(-90)" font-size="4.8" fill="#333" text-anchor="middle">Spatial Lag PMTF</text><line x1="48.3" y1="612.4" x2="193.4" y2="624.7" stroke="#8a8888" stroke-width="0.8"/><path d="M68.8 572.1L70.6 573.9L68.8 575.7L67 573.9ZM68.8 634.8L70.6 636.6L68.8 638.4L67 636.6ZM89.8 632.4L91.6 634.2L89.8 636L88 634.2ZM89.8 639.8L91.6 641.6L89.8 643.4L88 641.6Z" fill="#ff1a1a"/><path d="M68.8 553.7L70.65 555.4L68.8 557.1L66.95 555.4ZM110.3 583.1L112.15 584.8L110.3 586.5L108.45 584.8ZM48.3 622.3L50.15 624L48.3 625.7L46.45 624ZM48.3 626.1L50.15 627.8L48.3 629.5L46.45 627.8ZM68.8 595.1L70.65 596.8L68.8 598.5L66.95 596.8ZM68.8 600.5L70.65 602.2L68.8 603.9L66.95 602.2ZM68.8 604.3L70.65 606L68.8 607.7L66.95 606ZM68.8 606L70.65 607.7L68.8 609.4L66.95 607.7ZM68.8 611.5L70.65 613.2L68.8 614.9L66.95 613.2ZM68.8 618.3L70.65 620L68.8 621.7L66.95 620ZM68.8 626.1L70.65 627.8L68.8 629.5L66.95 627.8ZM89.8 620.6L91.65 622.3L89.8 624L87.95 622.3ZM89.8 625L91.65 626.7L89.8 628.4L87.95 626.7ZM89.8 636.2L91.65 637.9L89.8 639.6L87.95 637.9ZM110.3 594L112.15 595.7L110.3 597.4L108.45 595.7ZM110.3 613.5L112.15 615.2L110.3 616.9L108.45 615.2ZM110.3 627.1L112.15 628.8L110.3 630.5L108.45 628.8ZM110.3 649.5L112.15 651.2L110.3 652.9L108.45 651.2ZM131 605.9L132.85 607.6L131 609.3L129.15 607.6ZM152 618.3L153.85 620L152 621.7L150.15 620ZM193.4 622L195.25 623.7L193.4 625.4L191.55 623.7Z" fill="#262626"/><text x="59.39" y="576.9" font-size="7.1" fill="#222" textLength="8.61" lengthAdjust="spacingAndGlyphs">NX</text><text x="64.49" y="642.9" font-size="7.1" fill="#222" textLength="8.61" lengthAdjust="spacingAndGlyphs">GD</text><text x="91.6" y="638" font-size="7.1" fill="#222" textLength="6.63" lengthAdjust="spacingAndGlyphs">JX</text><text x="81.44" y="644.6" font-size="7.1" fill="#222" textLength="5.96" lengthAdjust="spacingAndGlyphs">ZJ</text></g>
<g><text x="239" y="528.9" font-size="8.55" fill="#222">k)SS: RETF</text><text x="322.8" y="536.6" font-size="7.8" fill="#222" textLength="71.5" lengthAdjust="spacingAndGlyphs">Local Moran I = -0.044</text><line x1="331.5" y1="543.2" x2="331.5" y2="658.5" stroke="#999999" stroke-width="0.9" stroke-dasharray="1.6 1.47"/><line x1="254" y1="574.3" x2="447.5" y2="574.3" stroke="#999999" stroke-width="0.9" stroke-dasharray="1.6 1.47"/><line x1="253.5" y1="543.2" x2="448" y2="543.2" stroke="#c0bdbd" stroke-width="1"/><line x1="253.5" y1="658.5" x2="448" y2="658.5" stroke="#a09c9c" stroke-width="1"/><line x1="254" y1="543.2" x2="254" y2="658.5" stroke="#c0bdbd" stroke-width="1"/><line x1="447.5" y1="543.2" x2="447.5" y2="658.5" stroke="#a09c9c" stroke-width="1"/><line x1="252" y1="543.2" x2="254" y2="543.2" stroke="#999" stroke-width="0.7"/><text x="251.3" y="544.4" font-size="4.7" fill="#333" text-anchor="end">0.60</text><line x1="252" y1="574.4" x2="254" y2="574.4" stroke="#999" stroke-width="0.7"/><text x="251.3" y="575.6" font-size="4.7" fill="#333" text-anchor="end">0.00</text><line x1="252" y1="658.4" x2="254" y2="658.4" stroke="#999" stroke-width="0.7"/><text x="251.3" y="659.6" font-size="4.7" fill="#333" text-anchor="end">-1.60</text><line x1="254" y1="658.5" x2="254" y2="660" stroke="#999" stroke-width="0.7"/><text x="254" y="665.4" font-size="4.7" fill="#333" text-anchor="middle">-2.00</text><line x1="292.3" y1="658.5" x2="292.3" y2="660" stroke="#999" stroke-width="0.7"/><text x="292.3" y="665.4" font-size="4.7" fill="#333" text-anchor="middle">-1.00</text><line x1="331.2" y1="658.5" x2="331.2" y2="660" stroke="#999" stroke-width="0.7"/><text x="331.2" y="665.4" font-size="4.7" fill="#333" text-anchor="middle">0.00</text><line x1="371.1" y1="658.5" x2="371.1" y2="660" stroke="#999" stroke-width="0.7"/><text x="371.1" y="665.4" font-size="4.7" fill="#333" text-anchor="middle">1.00</text><line x1="409.1" y1="658.5" x2="409.1" y2="660" stroke="#999" stroke-width="0.7"/><text x="409.1" y="665.4" font-size="4.7" fill="#333" text-anchor="middle">2.00</text><text transform="translate(237 607.5) rotate(-90)" font-size="4.8" fill="#333" text-anchor="middle">Spatial Lag RETF</text><line x1="276.2" y1="576.9" x2="425.5" y2="585.9" stroke="#8a8888" stroke-width="0.8"/><path d="M335.9 647.8L337.7 649.6L335.9 651.4L334.1 649.6Z" fill="#ff1a1a"/><path d="M276.2 575.9L278.05 577.6L276.2 579.3L274.35 577.6ZM276.2 580.7L278.05 582.4L276.2 584.1L274.35 582.4ZM276.2 590.4L278.05 592.1L276.2 593.8L274.35 592.1ZM305.7 557.6L307.55 559.3L305.7 561L303.85 559.3ZM305.7 559.2L307.55 560.9L305.7 562.6L303.85 560.9ZM305.7 560.9L307.55 562.6L305.7 564.3L303.85 562.6ZM305.7 567.1L307.55 568.8L305.7 570.5L303.85 568.8ZM305.7 568.8L307.55 570.5L305.7 572.2L303.85 570.5ZM305.7 570.1L307.55 571.8L305.7 573.5L303.85 571.8ZM305.7 579.7L307.55 581.4L305.7 583.1L303.85 581.4ZM305.7 586.4L307.55 588.1L305.7 589.8L303.85 588.1ZM335.9 553.1L337.75 554.8L335.9 556.5L334.05 554.8ZM335.9 575L337.75 576.7L335.9 578.4L334.05 576.7ZM335.9 575.9L337.75 577.6L335.9 579.3L334.05 577.6ZM335.9 588.3L337.75 590L335.9 591.7L334.05 590ZM335.9 587.5L337.75 589.2L335.9 590.9L334.05 589.2ZM365.9 568.6L367.75 570.3L365.9 572L364.05 570.3ZM365.9 572.5L367.75 574.2L365.9 575.9L364.05 574.2ZM365.9 577.6L367.75 579.3L365.9 581L364.05 579.3ZM365.9 579.2L367.75 580.9L365.9 582.6L364.05 580.9ZM365.9 583.8L367.75 585.5L365.9 587.2L364.05 585.5ZM365.9 594.6L367.75 596.3L365.9 598L364.05 596.3ZM395.7 583.8L397.55 585.5L395.7 587.2L393.85 585.5ZM425.5 583.3L427.35 585L425.5 586.7L423.65 585Z" fill="#262626"/><text x="337.7" y="653.4" font-size="7.1" fill="#222" textLength="6.63" lengthAdjust="spacingAndGlyphs">XJ</text></g>
<g><text x="463.5" y="527.8" font-size="8.55" fill="#222">l)SS: MRSDPF</text><text x="549.6" y="536.6" font-size="7.8" fill="#222" textLength="71.5" lengthAdjust="spacingAndGlyphs">Local Moran I = -0.099</text><line x1="553.9" y1="544.5" x2="553.9" y2="660" stroke="#c4c4c4" stroke-width="0.9" stroke-dasharray="1.6 1.47"/><line x1="482.6" y1="573.5" x2="672.5" y2="573.5" stroke="#999999" stroke-width="0.9" stroke-dasharray="1.6 1.47"/><line x1="482.1" y1="544.5" x2="673" y2="544.5" stroke="#a09c9c" stroke-width="1"/><line x1="482.1" y1="660" x2="673" y2="660" stroke="#c0bdbd" stroke-width="1"/><line x1="482.6" y1="544.5" x2="482.6" y2="660" stroke="#a09c9c" stroke-width="1"/><line x1="672.5" y1="544.5" x2="672.5" y2="660" stroke="#a09c9c" stroke-width="1"/><line x1="480.6" y1="544.2" x2="482.6" y2="544.2" stroke="#999" stroke-width="0.7"/><text x="479.9" y="545.4" font-size="4.7" fill="#333" text-anchor="end">0.40</text><line x1="480.6" y1="573.4" x2="482.6" y2="573.4" stroke="#999" stroke-width="0.7"/><text x="479.9" y="574.6" font-size="4.7" fill="#333" text-anchor="end">0.00</text><line x1="480.6" y1="659.7" x2="482.6" y2="659.7" stroke="#999" stroke-width="0.7"/><text x="479.9" y="660.9" font-size="4.7" fill="#333" text-anchor="end">-1.20</text><line x1="520.3" y1="660" x2="520.3" y2="661.5" stroke="#999" stroke-width="0.7"/><text x="520.3" y="666.9" font-size="4.7" fill="#333" text-anchor="middle">-1.00</text><line x1="553.9" y1="660" x2="553.9" y2="661.5" stroke="#999" stroke-width="0.7"/><text x="553.9" y="666.9" font-size="4.7" fill="#333" text-anchor="middle">0.00</text><line x1="601.5" y1="660" x2="601.5" y2="661.5" stroke="#999" stroke-width="0.7"/><text x="601.5" y="666.9" font-size="4.7" fill="#333" text-anchor="middle">1.00</text><line x1="648.7" y1="660" x2="648.7" y2="661.5" stroke="#999" stroke-width="0.7"/><text x="648.7" y="666.9" font-size="4.7" fill="#333" text-anchor="middle">2.00</text><text transform="translate(465.6 604.5) rotate(-90)" font-size="4.8" fill="#333" text-anchor="middle">Spatial Lag MRSDPF</text><line x1="501" y1="567.1" x2="653.4" y2="589.5" stroke="#8a8888" stroke-width="0.8"/><path d="M622.6 652L624.4 653.8L622.6 655.6L620.8 653.8Z" fill="#ff1a1a"/><path d="M501 563.3L502.85 565L501 566.7L499.15 565ZM501 574.2L502.85 575.9L501 577.6L499.15 575.9ZM501 576.4L502.85 578.1L501 579.8L499.15 578.1ZM531.5 548.3L533.35 550L531.5 551.7L529.65 550ZM531.5 550L533.35 551.7L531.5 553.4L529.65 551.7ZM531.5 551.7L533.35 553.4L531.5 555.1L529.65 553.4ZM531.5 552.9L533.35 554.6L531.5 556.3L529.65 554.6ZM531.5 560.4L533.35 562.1L531.5 563.8L529.65 562.1ZM531.5 562.1L533.35 563.8L531.5 565.5L529.65 563.8ZM531.5 563.8L533.35 565.5L531.5 567.2L529.65 565.5ZM531.5 565.4L533.35 567.1L531.5 568.8L529.65 567.1ZM531.5 568.5L533.35 570.2L531.5 571.9L529.65 570.2ZM531.5 573.8L533.35 575.5L531.5 577.2L529.65 575.5ZM531.5 580.3L533.35 582L531.5 583.7L529.65 582ZM561.8 562.6L563.65 564.3L561.8 566L559.95 564.3ZM561.8 568.5L563.65 570.2L561.8 571.9L559.95 570.2ZM561.8 570.1L563.65 571.8L561.8 573.5L559.95 571.8ZM561.8 573L563.65 574.7L561.8 576.4L559.95 574.7ZM501 605.7L502.85 607.4L501 609.1L499.15 607.4ZM531.5 606.8L533.35 608.5L531.5 610.2L529.65 608.5ZM592.2 559.5L594.05 561.2L592.2 562.9L590.35 561.2ZM622.6 566.5L624.45 568.2L622.6 569.9L620.75 568.2ZM653.4 576.7L655.25 578.4L653.4 580.1L651.55 578.4ZM653.4 587.8L655.25 589.5L653.4 591.2L651.55 589.5ZM653.4 591.5L655.25 593.2L653.4 594.9L651.55 593.2Z" fill="#262626"/><text x="624.4" y="657.6" font-size="7.1" fill="#222" textLength="6.63" lengthAdjust="spacingAndGlyphs">XJ</text></g>
</svg>
</body></html>
